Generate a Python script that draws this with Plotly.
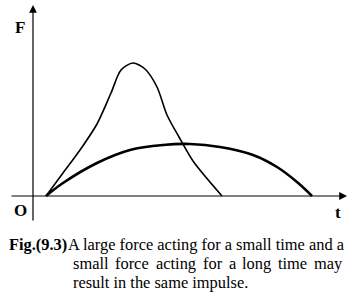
import plotly.graph_objects as go

# Data (t, F) in arbitrary units, origin at (0, 0)
t_short = [13, 30, 47, 64, 78, 88, 100, 112, 124, 134, 146, 160, 189]
F_short = [0, 23, 46, 72, 103, 126, 133, 127, 109, 81, 59, 35, 0]

t_long = [13, 30, 64, 97, 130, 157, 187, 220, 244, 264, 279]
F_long = [0, 13, 33, 46, 51, 52, 49, 41, 29, 14, 0]

caption_label = "Fig.(9.3)"
caption_line1 = "A large force acting for a small time and a"
caption_line2_words = ["small", "force", "acting", "for", "a", "long", "time", "may"]
caption_line3 = "result in the same impulse."

SERIF = "Liberation Serif, Times New Roman, serif"
OX, OY = 33, 196  # pixel of origin (for converting layout pixel positions)

def px(x):
    return x - OX

def py(y):
    return OY - y

fig = go.Figure()
fig.add_trace(go.Scatter(x=t_short, y=F_short, mode="lines",
                         line=dict(color="black", width=1.6, shape="spline", smoothing=0.8),
                         hoverinfo="skip"))
fig.add_trace(go.Scatter(x=t_long, y=F_long, mode="lines",
                         line=dict(color="black", width=2.6, shape="spline", smoothing=1.0),
                         hoverinfo="skip"))

# axes with arrows
fig.add_annotation(x=px(347), y=0, ax=px(10), ay=0, xref="x", yref="y", axref="x", ayref="y",
                   text="", showarrow=True, arrowhead=2, arrowsize=1.3, arrowwidth=1.2,
                   arrowcolor="black")
fig.add_annotation(x=0, y=py(5), ax=0, ay=py(222), xref="x", yref="y", axref="x", ayref="y",
                   text="", showarrow=True, arrowhead=2, arrowsize=1.3, arrowwidth=1.2,
                   arrowcolor="black")

lbl_font = dict(family=SERIF, size=17, color="black")
fig.add_annotation(x=px(20), y=py(27), text="<b>F</b>", showarrow=False, font=lbl_font)
fig.add_annotation(x=px(20), y=py(210), text="<b>O</b>", showarrow=False, font=lbl_font)
fig.add_annotation(x=px(338), y=py(212), text="<b>t</b>", showarrow=False, font=lbl_font)

cap_font = dict(family=SERIF, size=16.4, color="black")
common = dict(showarrow=False, font=cap_font, borderpad=0, borderwidth=0)
fig.add_annotation(x=px(67), y=py(244), text="<b>" + caption_label + "</b>",
                   xanchor="right", **common)
fig.add_annotation(x=px(68), y=py(244), text=caption_line1, xanchor="left", **common)
word_starts = [73, 115, 156, 203, 229, 242, 278, 314]
for w, xs in zip(caption_line2_words, word_starts):
    fig.add_annotation(x=px(xs), y=py(263), text=w, xanchor="left", **common)
fig.add_annotation(x=px(73), y=py(282), text=caption_line3, xanchor="left", **common)

fig.update_layout(
    width=361, height=295, margin=dict(l=0, r=0, t=0, b=0),
    paper_bgcolor="white", plot_bgcolor="white", showlegend=False,
    xaxis=dict(range=[-OX, 361 - OX], visible=False, fixedrange=True),
    yaxis=dict(range=[OY - 295, OY], visible=False, fixedrange=True),
)

fig.write_html("out.html")
